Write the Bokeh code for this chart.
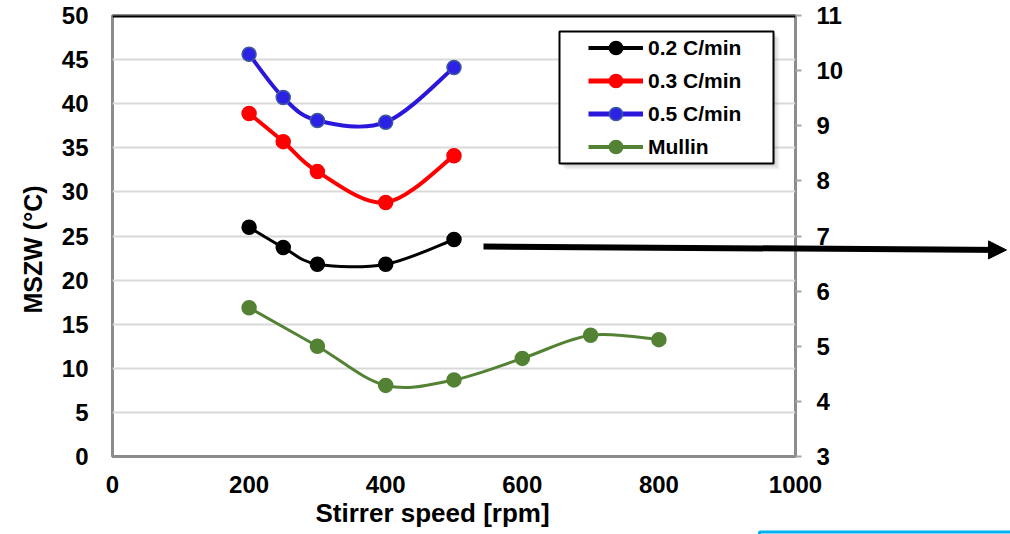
from bokeh.plotting import figure
from bokeh.models import (Range1d, LinearAxis, SingleIntervalTicker, Legend, LegendItem,
                          Arrow, NormalHead, Span, BoxAnnotation, Title)
from bokeh.embed import file_html
from bokeh.resources import INLINE

# ---- data ----
speed_rates = [200, 250, 300, 400, 500]
mszw_02 = [26.0, 23.7, 21.8, 21.8, 24.6]
mszw_03 = [38.9, 35.7, 32.3, 28.8, 34.1]
mszw_05 = [45.6, 40.7, 38.1, 37.9, 44.1]
speed_mullin = [200, 300, 400, 500, 600, 700, 800]
mszw_mullin = [5.70, 5.00, 4.29, 4.39, 4.78, 5.20, 5.12]
series_labels = ["0.2 C/min", "0.3 C/min", "0.5 C/min", "Mullin"]
x_title = "Stirrer speed [rpm]"
y_title = "MSZW (°C)"

FONT = "Liberation Sans"
W, H = 1010, 534

p = figure(width=W, height=H, output_backend="svg", toolbar_location=None,
           x_range=Range1d(0, 1000), y_range=Range1d(0, 50),
           min_border_left=112, min_border_right=215, min_border_top=15, min_border_bottom=78)
p.extra_y_ranges = {"right": Range1d(3, 11)}

p.outline_line_color = "#8c8c8c"
p.outline_line_width = 3
p.xgrid.grid_line_color = None
p.ygrid.grid_line_color = "#d9d9d9"
p.ygrid.grid_line_width = 2
p.background_fill_color = "white"

def style_axis(ax, standoff):
    ax.axis_line_color = None
    ax.major_tick_line_color = None
    ax.minor_tick_line_color = None
    ax.major_tick_out = 0
    ax.major_tick_in = 0
    ax.major_label_text_font = FONT
    ax.major_label_text_font_style = "bold"
    ax.major_label_text_font_size = "24px"
    ax.major_label_text_color = "black"
    ax.major_label_standoff = standoff

p.xaxis.ticker = SingleIntervalTicker(interval=200)
p.yaxis.ticker = SingleIntervalTicker(interval=5)
style_axis(p.xaxis[0], 15)
style_axis(p.yaxis[0], 20)

rax = LinearAxis(y_range_name="right", ticker=SingleIntervalTicker(interval=1))
style_axis(rax, 15)
rax.major_tick_line_color = "#a6a6a6"
rax.major_tick_line_width = 2
rax.major_tick_out = 6
p.add_layout(rax, "right")

# axis titles (placed like the reference, slightly off-centre)
p.add_layout(Title(text=x_title, align="left", offset=203, standoff=0,
                   text_font=FONT, text_font_style="bold", text_font_size="26px",
                   text_color="black"), "below")
p.add_layout(Title(text=y_title, align="left", offset=143, standoff=24,
                   text_font=FONT, text_font_style="bold", text_font_size="25px",
                   text_color="black"), "left")

# top border
p.add_layout(Span(location=50, dimension="width", line_color="black", line_width=4))

# Excel-like smoothed line through points (Bezier segments)
def smooth(xs, ys, color, width, y_range_name="default"):
    n = len(xs)
    x0, y0, x1, y1, cx0, cy0, cx1, cy1 = [], [], [], [], [], [], [], []
    for i in range(n - 1):
        pi = max(i - 1, 0)
        ni = min(i + 2, n - 1)
        x0.append(xs[i]); y0.append(ys[i])
        x1.append(xs[i + 1]); y1.append(ys[i + 1])
        cx0.append(xs[i] + (xs[i + 1] - xs[pi]) / 6.0)
        cy0.append(ys[i] + (ys[i + 1] - ys[pi]) / 6.0)
        cx1.append(xs[i + 1] - (xs[ni] - xs[i]) / 6.0)
        cy1.append(ys[i + 1] - (ys[ni] - ys[i]) / 6.0)
    p.bezier(x0=x0, y0=y0, x1=x1, y1=y1, cx0=cx0, cy0=cy0, cx1=cx1, cy1=cy1,
             line_color=color, line_width=width, y_range_name=y_range_name)

specs = [
    (speed_rates, mszw_02, "black", "black", "black", 3, "default"),
    (speed_rates, mszw_03, "#ff0000", "#ff0000", "#ff0000", 4, "default"),
    (speed_rates, mszw_05, "#2b16dc", "#2b22e6", "#3e5b9a", 4, "default"),
    (speed_mullin, mszw_mullin, "#548235", "#548235", "#548235", 3, "right"),
]

nan = float("nan")
items = []
for (xs, ys, lc, fc, mc, lw, yr), lab in zip(specs, series_labels):
    smooth(xs, ys, lc, lw, yr)
    leg_line = p.line(x=[nan], y=[nan], line_color=lc, line_width=lw + 1)
    sc = p.scatter(x=xs, y=ys, size=14, marker="circle", fill_color=fc,
                   line_color=mc, line_width=1.5, y_range_name=yr)
    items.append(LegendItem(label=lab, renderers=[leg_line, sc]))

# legend box with shadow (page pixel -> data)
def px2x(px):
    return (px - 112) / 683.0 * 1000.0

def px2y(py):
    return (456 - py) / 441.0 * 50.0

for off, alpha in [(6, 0.10), (4, 0.15), (2, 0.2)]:
    p.add_layout(BoxAnnotation(left=px2x(559 + off), right=px2x(773 + off),
                               top=px2y(31 + off), bottom=px2y(163 + off),
                               fill_color="#808080", fill_alpha=alpha, line_color=None))
p.add_layout(BoxAnnotation(left=px2x(559), right=px2x(773), top=px2y(31), bottom=px2y(163),
                           fill_color="white", fill_alpha=1.0,
                           line_color="black", line_alpha=1.0, line_width=2))

legend = Legend(items=items, location=(476, 293), padding=0, spacing=0, margin=0,
                label_height=33, glyph_height=33, glyph_width=55, label_standoff=5,
                border_line_color=None, background_fill_alpha=0,
                label_text_font=FONT, label_text_font_style="bold",
                label_text_font_size="21px", label_text_color="black")
p.add_layout(legend)

# transparent overlay (page pixel coordinates) for the arrow that leaves the plot area
ov = figure(width=W, height=H, output_backend="svg", toolbar_location=None,
            x_range=Range1d(0, W), y_range=Range1d(H, 0),
            x_axis_type=None, y_axis_type=None,
            min_border=0, min_border_left=0, min_border_right=0,
            min_border_top=0, min_border_bottom=0)
ov.grid.visible = False
ov.outline_line_color = None
ov.background_fill_alpha = 0
ov.border_fill_alpha = 0
ov.styles = {"position": "absolute", "left": "0px", "top": "0px", "pointer-events": "none"}

ov.add_layout(Arrow(x_start=483, y_start=246, x_end=1006, y_end=249.5,
                    line_color="black", line_width=6,
                    end=NormalHead(size=18, fill_color="black", line_color="black")))
ov.add_layout(BoxAnnotation(left=759, right=1015, top=531.5, bottom=560,
                            fill_alpha=0, line_color="#00b0f0", line_alpha=1.0, line_width=3))

open("out.html", "w").write(file_html((p, ov), INLINE))
